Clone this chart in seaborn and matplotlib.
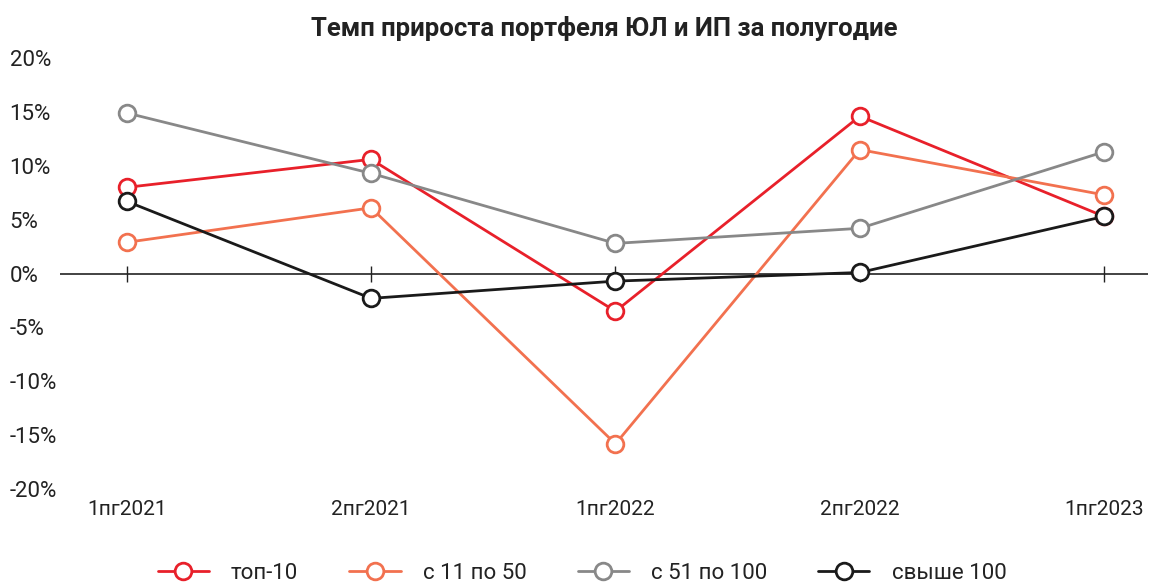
import matplotlib
matplotlib.use("Agg")
import pandas as pd
import matplotlib.pyplot as plt
import seaborn as sns

sns.set_theme(style="white")
plt.rcParams['font.family'] = ['Roboto', 'DejaVu Sans']

# Data (percent)
periods = ['1пг2021', '2пг2021', '1пг2022', '2пг2022', '1пг2023']
top10 = [8.0, 10.6, -3.5, 14.6, 5.3]
from11to50 = [2.9, 6.1, -15.8, 11.5, 7.3]
from51to100 = [14.9, 9.3, 2.8, 4.2, 11.3]
over100 = [6.7, -2.3, -0.7, 0.1, 5.3]

series = {
    'топ-10': (top10, '#E8202A'),
    'с 11 по 50': (from11to50, '#F2714F'),
    'с 51 по 100': (from51to100, '#888888'),
    'свыше 100': (over100, '#1A1A1A'),
}
yticks = [-20, -15, -10, -5, 0, 5, 10, 15, 20]

fig, ax = plt.subplots(figsize=(11.68, 5.83), dpi=100)
fig.subplots_adjust(left=0.051, right=0.983, top=0.9005, bottom=0.161)

# zero line with tick crosses
ax.axhline(0, color='#222222', lw=1.2, zorder=1)
ax.plot(range(len(periods)), [0] * len(periods), ls='none', marker='|',
        ms=12, mew=1.0, color='#222222', zorder=1)

for name, (vals, col) in series.items():
    df = pd.DataFrame({'period': periods, 'value': vals})
    sns.lineplot(data=df, x='period', y='value', ax=ax, sort=False,
                 color=col, lw=2, marker='o', ms=12, mfc='white',
                 mec=col, mew=2, label=name, zorder=3)

ax.set_ylim(-20, 20)
ax.set_xlim(-0.275, 4.18)
ax.set_yticks(yticks)
ax.set_yticklabels([f'{v}%' for v in yticks])
ax.set_xticks(range(len(periods)))
ax.set_xticklabels(periods)
ax.tick_params(axis='y', length=0, pad=36, labelsize=16, labelcolor='#222222')
ax.tick_params(axis='x', length=0, pad=8, labelsize=15, labelcolor='#222222')
for lab in ax.get_yticklabels():
    lab.set_horizontalalignment('left')
ax.set_xlabel('')
ax.set_ylabel('')
for sp in ax.spines.values():
    sp.set_visible(False)

ax.set_title('Темп прироста портфеля ЮЛ и ИП за полугодие',
             fontweight='bold', fontsize=18.5, color='#222222', pad=16)

ax.legend(loc='upper center', bbox_to_anchor=(0.48, -0.125), ncol=4,
          frameon=False, fontsize=16, handlelength=2.3, columnspacing=2.3,
          handletextpad=1.0, labelcolor='#222222')

fig.savefig('out.png', dpi=100)
